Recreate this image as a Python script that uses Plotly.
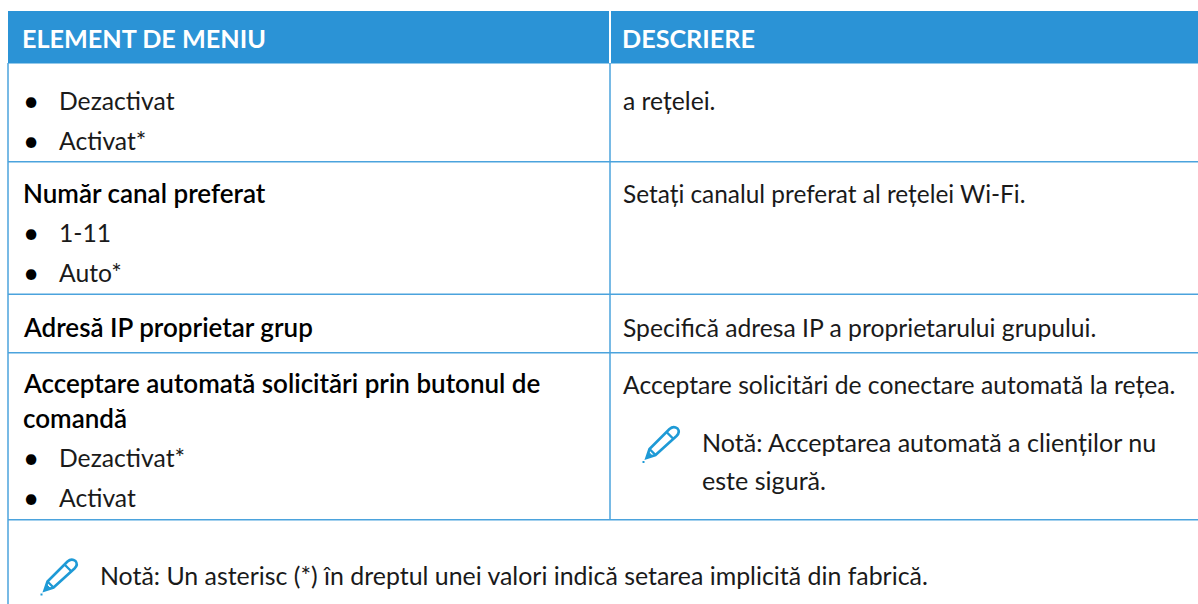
import plotly.graph_objects as go

BLUE = "#2b93d6"
LINE = "#4ba3dd"
INK = "#1a1a1a"
ICON = "#1e9ad6"
FONT = "Lato"

header_labels = ["ELEMENT DE MENIU", "DESCRIERE"]
left_lines = [
    ("bullet", "Dezactivat", 100),
    ("bullet", "Activat*", 140),
    ("bold", "Număr canal preferat", 193),
    ("bullet", "1-11", 232),
    ("bullet", "Auto*", 272),
    ("bold", "Adresă IP proprietar grup", 327),
    ("bold", "Acceptare automată solicitări prin butonul de", 383),
    ("bold", "comandă", 418),
    ("bullet", "Dezactivat*", 457),
    ("bullet", "Activat", 497),
]
right_lines = [
    ("a rețelei.", 621, 100, 24.7),
    ("Setați canalul preferat al rețelei Wi-Fi.", 621, 193, 24.4),
    ("Specifică adresa IP a proprietarului grupului.", 621, 327, 24.7),
    ("Acceptare solicitări de conectare automată la rețea.", 621, 384, 24.7),
    ("Notă: Acceptarea automată a clienților nu", 700, 442, 25.1),
    ("este sigură.", 700, 480, 25.1),
]
footer_note = "Notă: Un asterisc (*) în dreptul unei valori indică setarea implicită din fabrică."
row_rules = [161.7, 294.3, 352.7, 519.7]


def pencil(dx, dy):
    body = (f"M {dx+4} {dy+33} L {dx+7} {dy+24} L {dx+27} {dy+4} Q {dx+31} {dy+0.5} {dx+35} {dy+3.5} "
            f"Q {dx+38} {dy+7} {dx+34} {dy+11} L {dx+13} {dy+30} Z")
    marks = f"M {dx+7} {dy+24} L {dx+13} {dy+30} M {dx+24} {dy+7} L {dx+31} {dy+14}"
    tip = f"M {dx+4} {dy+33} L {dx+6} {dy+27} L {dx+10} {dy+31} Z"
    dot = f"M {dx} {dy+36} L {dx+2} {dy+36} L {dx+2} {dy+38} L {dx} {dy+38} Z"
    return [
        dict(type="path", path=body, line=dict(color=ICON, width=2.6), fillcolor="white"),
        dict(type="path", path=marks, line=dict(color=ICON, width=2.4)),
        dict(type="path", path=tip, line=dict(color=ICON, width=1), fillcolor=ICON),
        dict(type="path", path=dot, line_width=0, fillcolor=ICON),
    ]


shapes = [
    dict(type="rect", x0=8, x1=1198, y0=11, y1=63.5, fillcolor=BLUE, line_width=0, layer="below"),
    dict(type="line", x0=610, x1=610, y0=11, y1=63.5, line=dict(color="white", width=2)),
    dict(type="line", x0=8, x1=8, y0=63, y1=604, line=dict(color=LINE, width=1.5)),
    dict(type="line", x0=610, x1=610, y0=63, y1=519.7, line=dict(color=LINE, width=1.5)),
]
for y in row_rules:
    shapes.append(dict(type="line", x0=8, x1=1198, y0=y, y1=y, line=dict(color=LINE, width=1.5)))
shapes += pencil(642.5, 425) + pencil(40.5, 557.5)

annotations = []


def put(text, x, y, size=24.7, color=INK, weight=400):
    annotations.append(dict(
        text=text, x=x, y=y, xref="x", yref="y",
        xanchor="left", yanchor="middle", showarrow=False,
        font=dict(family=FONT, size=size, color=color, weight=weight),
    ))


put(header_labels[0], 19.5, 38, size=25.2, color="white", weight=700)
put(header_labels[1], 620, 38, size=25.2, color="white", weight=700)
for kind, text, y in left_lines:
    if kind == "bold":
        put(text, 20.5, y, size=26, color="#000000", weight=600)
    else:
        put("•", 21, y, size=28, color="#000000")
        put(text, 57, y)
for text, x, y, size in right_lines:
    put(text, x, y, size=size)
put(footer_note, 98, 575, size=24.9)

fig = go.Figure()
fig.update_layout(
    width=1198, height=604, autosize=False,
    margin=dict(l=0, r=0, t=0, b=0),
    paper_bgcolor="white", plot_bgcolor="white",
    xaxis=dict(range=[0, 1198], visible=False, fixedrange=True),
    yaxis=dict(range=[604, 0], visible=False, fixedrange=True),
    shapes=shapes, annotations=annotations, showlegend=False,
)
fig.write_html(
    "out.html",
    config={"displayModeBar": False},
    post_script="document.body.style.margin='0';document.body.style.overflow='hidden';",
)
